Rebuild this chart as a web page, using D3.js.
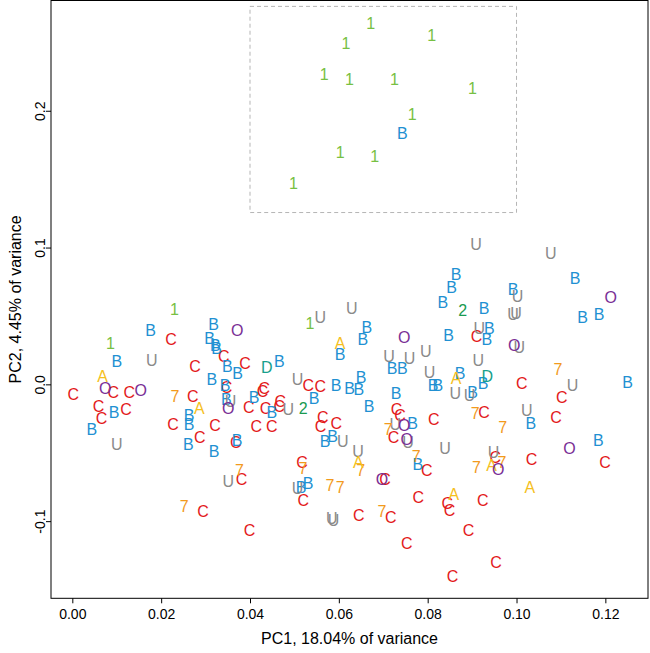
<!DOCTYPE html>
<html><head><meta charset="utf-8">
<script src="https://cdn.jsdelivr.net/npm/d3@7"></script>
<style>body{margin:0;background:#fff} svg{display:block;font-family:"Liberation Sans",Arial,sans-serif}</style>
</head><body><svg id="c" width="650" height="653"></svg>
<script>
// ---- data ----
const xTicks = [0, 0.02, 0.04, 0.06, 0.08, 0.10, 0.12];
const yTicks = [-0.1, 0.0, 0.1, 0.2];
const xLabel = "PC1, 18.04% of variance";
const yLabel = "PC2, 4.45% of variance";
const boxPC1 = [0.04, 0.10];
const boxPC2 = [0.1256, 0.2763];

const groups = ["1", "2", "D", "A", "7", "O", "U", "B", "C"];

const pc1_1 = [0.0672,0.0809,0.0616,0.0567,0.0624,0.0725,0.0901,0.0765,0.0603,0.0681,0.0498,0.0230,0.0086,0.0535];
const pc2_1 = [0.2641,0.2551,0.2497,0.2266,0.2229,0.2229,0.2161,0.1972,0.1698,0.1669,0.1472,0.0547,0.0303,0.0449];

const pc1_2 = [0.0520,0.0879];
const pc2_2 = [-0.0176,0.0542];

const pc1_D = [0.0438,0.0934];
const pc2_D = [0.0122,0.0060];

const pc1_A = [0.0068,0.0286,0.0603,0.0644,0.0864,0.0944,0.1030,0.0859];
const pc2_A = [0.0060,-0.0176,0.0303,-0.0566,0.0043,-0.0590,-0.0753,-0.0802];

const pc1_7 = [0.0231,0.0376,0.0252,0.0711,0.0649,0.0774,0.0519,0.0580,0.0603,0.0697,0.1093,0.0907,0.0969,0.0910,0.0967];
const pc2_7 = [-0.0086,-0.0627,-0.0888,-0.0327,-0.0627,-0.0524,-0.0614,-0.0741,-0.0749,-0.0931,0.0109,-0.0213,-0.0313,-0.0603,-0.0573];

const pc1_O = [0.0074,0.0154,0.0371,0.0351,0.0747,0.0747,0.0753,0.0697,0.1212,0.0995,0.0959,0.1119];
const pc2_O = [-0.0030,-0.0042,0.0394,-0.0174,0.0347,-0.0298,-0.0400,-0.0695,0.0639,0.0286,-0.0622,-0.0468];

const pc1_U = [0.0179,0.0100,0.0356,0.0351,0.0507,0.0486,0.0558,0.0629,0.0713,0.0759,0.0796,0.0804,0.0727,0.0609,0.0756,0.0643,0.0507,0.0584,0.0588,0.0909,0.1077,0.1002,0.0992,0.0999,0.0916,0.1006,0.0914,0.0862,0.0894,0.1126,0.1023,0.0839,0.0948];
const pc2_U = [0.0175,-0.0437,-0.0125,-0.0705,0.0037,-0.0183,0.0489,0.0554,0.0206,0.0189,0.0243,0.0091,-0.0291,-0.0413,-0.0420,-0.0486,-0.0756,-0.0980,-0.0992,0.1024,0.0961,0.0644,0.0511,0.0518,0.0408,0.0274,0.0177,-0.0062,-0.0079,-0.0006,-0.0188,-0.0468,-0.0493];

const pc1_B = [0.0743,0.0176,0.0318,0.0309,0.0322,0.0325,0.0100,0.0349,0.0372,0.0314,
  0.0344,0.0347,0.0094,0.0263,0.0263,0.0044,0.0466,0.0409,0.0449,0.0261,
  0.0319,0.0371,0.0663,0.0654,0.0603,0.0720,0.0743,0.0594,0.0624,0.0645,
  0.0650,0.0729,0.0544,0.0668,0.0766,0.0569,0.0586,0.0778,0.0531,0.0515,
  0.0812,0.0823,0.0864,0.0854,0.1132,0.0834,0.0927,0.0992,0.1149,0.1186,
  0.0847,0.0939,0.0933,0.0873,0.0925,0.0901,0.1250,0.1032,0.1184];
const pc2_B = [0.1833,0.0396,0.0440,0.0337,0.0283,0.0261,0.0172,0.0133,0.0082,0.0040,
  -0.0009,-0.0112,-0.0201,-0.0225,-0.0292,-0.0331,0.0172,-0.0091,-0.0201,-0.0439,
  -0.0486,-0.0408,0.0420,0.0330,0.0221,0.0116,0.0116,-0.0006,-0.0026,-0.0037,
  0.0055,-0.0066,-0.0103,-0.0159,-0.0281,-0.0413,-0.0378,-0.0583,-0.0720,-0.0749,
  -0.0006,-0.0009,0.0805,0.0708,0.0778,0.0603,0.0554,0.0693,0.0489,0.0511,
  0.0359,0.0408,0.0328,0.0084,0.0011,-0.0059,0.0018,-0.0283,-0.0408];

const pc1_C = [0.0222,0.0341,0.0389,0.0276,0.0347,0.0397,0.0002,0.0092,0.0128,0.0271,
  0.0059,0.0121,0.0066,0.0227,0.0321,0.0432,0.0428,0.0435,0.0468,0.0466,
  0.0414,0.0449,0.0531,0.0558,0.0730,0.0738,0.0814,0.0564,0.0559,0.0594,
  0.0287,0.0368,0.0381,0.0294,0.0399,0.0723,0.0798,0.0517,0.0704,0.0520,
  0.0779,0.0645,0.0717,0.0753,0.0910,0.1012,0.1102,0.0927,0.1089,0.0952,
  0.1034,0.1199,0.0844,0.0849,0.0924,0.0892,0.0954,0.0856];
const pc2_C = [0.0330,0.0207,0.0155,0.0130,-0.0023,-0.0164,-0.0072,-0.0059,-0.0059,-0.0088,
  -0.0159,-0.0183,-0.0245,-0.0289,-0.0300,-0.0026,-0.0051,-0.0174,-0.0121,-0.0159,
  -0.0305,-0.0305,-0.0006,-0.0013,-0.0183,-0.0225,-0.0258,-0.0242,-0.0309,-0.0286,
  -0.0389,-0.0424,-0.0695,-0.0931,-0.1065,-0.0388,-0.0627,-0.0566,-0.0695,-0.0846,
  -0.0826,-0.0955,-0.0972,-0.1162,0.0352,0.0007,-0.0091,-0.0201,-0.0240,-0.0530,
  -0.0549,-0.0566,-0.0870,-0.0919,-0.0846,-0.1065,-0.1297,-0.1401];

// ---- styles ----
const groupColor = {
  "1": "#77c043", "2": "#1a9a50", "D": "#17a08c", "A": "#f5c01d", "7": "#f29a1d",
  "O": "#7a2f96", "U": "#8a8a8a", "B": "#2190d2", "C": "#e31a1c"
};
const seriesPC1 = {"1":pc1_1,"2":pc1_2,"D":pc1_D,"A":pc1_A,"7":pc1_7,"O":pc1_O,"U":pc1_U,"B":pc1_B,"C":pc1_C};
const seriesPC2 = {"1":pc2_1,"2":pc2_2,"D":pc2_D,"A":pc2_A,"7":pc2_7,"O":pc2_O,"U":pc2_U,"B":pc2_B,"C":pc2_C};

const points = [];
["C","B","U","7","A","O","D","2","1"].forEach(g => {
  seriesPC1[g].forEach((v, i) => points.push({g, x: v, y: seriesPC2[g][i]}));
});

// ---- drawing ----
const svg = d3.select("#c");
const L = 51, R = 648, T = 0.5, B = 598.3;
const x = d3.scaleLinear().domain([-0.0048, 0.1296]).range([L, R]);
const y = d3.scaleLinear().domain([-0.1564, 0.2806]).range([B, T]);

// highlight box
svg.append("rect")
  .attr("x", x(boxPC1[0])).attr("y", y(boxPC2[1]))
  .attr("width", x(boxPC1[1]) - x(boxPC1[0]))
  .attr("height", y(boxPC2[0]) - y(boxPC2[1]))
  .attr("fill", "none").attr("stroke", "#b5b5b5").attr("stroke-width", 1)
  .attr("stroke-dasharray", "4,3");

// points as letters
svg.append("g").selectAll("text").data(points).join("text")
  .attr("x", d => x(d.x)).attr("y", d => y(d.y))
  .attr("dy", "0.36em").attr("text-anchor", "middle")
  .attr("font-size", 16).attr("fill", d => groupColor[d.g])
  .text(d => d.g);

// frame
svg.append("rect").attr("x", L).attr("y", T).attr("width", R - L).attr("height", B - T)
  .attr("fill", "none").attr("stroke", "#000").attr("stroke-width", 1);

// x axis
const gx = svg.append("g").attr("transform", `translate(0,${B})`)
  .call(d3.axisBottom(x).tickValues(xTicks).tickSize(5).tickPadding(5.8).tickFormat(d => d.toFixed(2)));
gx.select(".domain").remove();
gx.selectAll("text").attr("font-size", 14).attr("font-family", null).attr("fill", "#000");
gx.selectAll("line").attr("stroke", "#000");

// y axis
const gy = svg.append("g").attr("transform", `translate(${L},0)`)
  .call(d3.axisLeft(y).tickValues(yTicks).tickSize(5).tickFormat(d => d.toFixed(1)));
gy.select(".domain").remove();
gy.selectAll("line").attr("stroke", "#000");
gy.selectAll("text").attr("font-size", 14).attr("font-family", null).attr("fill", "#000")
  .attr("transform", "rotate(-90)").attr("x", 0).attr("y", -6).attr("dy", null)
  .attr("text-anchor", "middle");

svg.selectAll(".tick text, .tick").attr("font-family", null);
gx.attr("font-family", null); gy.attr("font-family", null);

// titles
svg.append("text").attr("x", (L + R) / 2).attr("y", 638).attr("dy", "0.36em")
  .attr("text-anchor", "middle").attr("font-size", 16).attr("fill", "#000").text(xLabel);
svg.append("text").attr("transform", `translate(15,${(T + B) / 2}) rotate(-90)`)
  .attr("dy", "0.36em").attr("text-anchor", "middle").attr("font-size", 16).attr("fill", "#000").text(yLabel);
</script>
</body></html>
